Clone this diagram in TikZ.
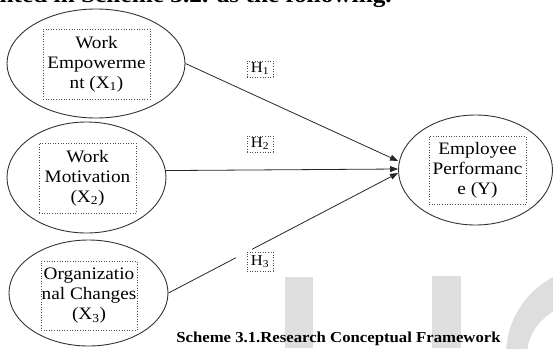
\documentclass[tikz,border=0pt]{standalone}
\usepackage{fontspec}
\setmainfont{Liberation Serif}[FakeStretch=1.1]
\usetikzlibrary{shapes.geometric,arrows.meta}
\begin{document}
\begin{tikzpicture}[x=1pt,y=-1pt,
  ell/.style={ellipse,draw=black!80,line width=0.9pt,inner sep=0pt},
  tbox/.style={draw=black!70,dotted,line width=0.6pt,align=center,inner sep=0pt,
    font=\fontsize{17.5}{20}\selectfont},
  hbox/.style={draw=black!70,dotted,line width=0.6pt,inner sep=0pt,
    minimum width=26pt,minimum height=16pt,font=\fontsize{15}{16}\selectfont},
  conn/.style={line width=0.8pt,draw=black!85,-{Triangle[length=8pt,width=6pt]}},
  wm/.style={fill=black!13}]
\useasboundingbox (0,0) rectangle (553,348);
\begin{scope}
\clip (0,0) rectangle (553,348);
% watermark
\fill[wm] (285,277) rectangle (313,348);
\fill[wm] (432,276) rectangle (461,348);
\fill[wm,even odd rule] (594,355) ellipse [x radius=88pt,y radius=88pt]
  (594,355) ellipse [x radius=67pt,y radius=55pt];
% cropped line of text at the top
\node[anchor=base east,font=\bfseries\fontsize{23}{26}\selectfont,inner sep=0pt] (top) at (392,2.8)
  {presented in Scheme 3.2. as the following.};
\end{scope}
% ellipses
\node[ell,minimum width=178pt,minimum height=109pt] (x1) at (96,63.5) {};
\node[ell,minimum width=159pt,minimum height=111pt] (x2) at (86.5,177.5) {};
\node[ell,minimum width=159pt,minimum height=106pt] (x3) at (88.5,293) {};
\node[ell,minimum width=154pt,minimum height=110pt] (y) at (475.5,170) {};
% text boxes
\node[tbox,minimum width=107pt,minimum height=70pt] (b1) at (96.5,64)
  {Work\\Empowerme\\nt (X\textsubscript{1})};
\node[tbox,minimum width=97pt,minimum height=70pt] (b2) at (87.5,178)
  {Work\\Motivation\\(X\textsubscript{2})};
\node[tbox,minimum width=96pt,minimum height=69pt] (b3) at (89,295.5)
  {Organizatio\\nal Changes\\(X\textsubscript{3})};
\node[tbox,minimum width=97pt,minimum height=68pt] (by) at (477.5,170)
  {Employee\\Performanc\\e (Y)};
% connectors
\draw[conn] (x1.east) -- ([yshift=9pt]y.west);
\draw[conn] (x2.5) -- ([yshift=1pt]y.west);
\draw[conn] (x3.east) -- ([yshift=-3pt]y.west);
\fill[white] (236,244) rectangle (252,261);
% labels
\node[hbox] (h1) at (260,69) {H\textsubscript{1}};
\node[hbox] (h2) at (260,144) {H\textsubscript{2}};
\node[hbox,minimum height=19pt] (h3) at (260,261.5) {H\textsubscript{3}};
% caption
\node[anchor=base,inner sep=0pt,font=\bfseries\fontsize{15.2}{17}\selectfont] (cap) at (338.5,342)
  {Scheme 3.1.Research Conceptual Framework};
\end{tikzpicture}
\end{document}
